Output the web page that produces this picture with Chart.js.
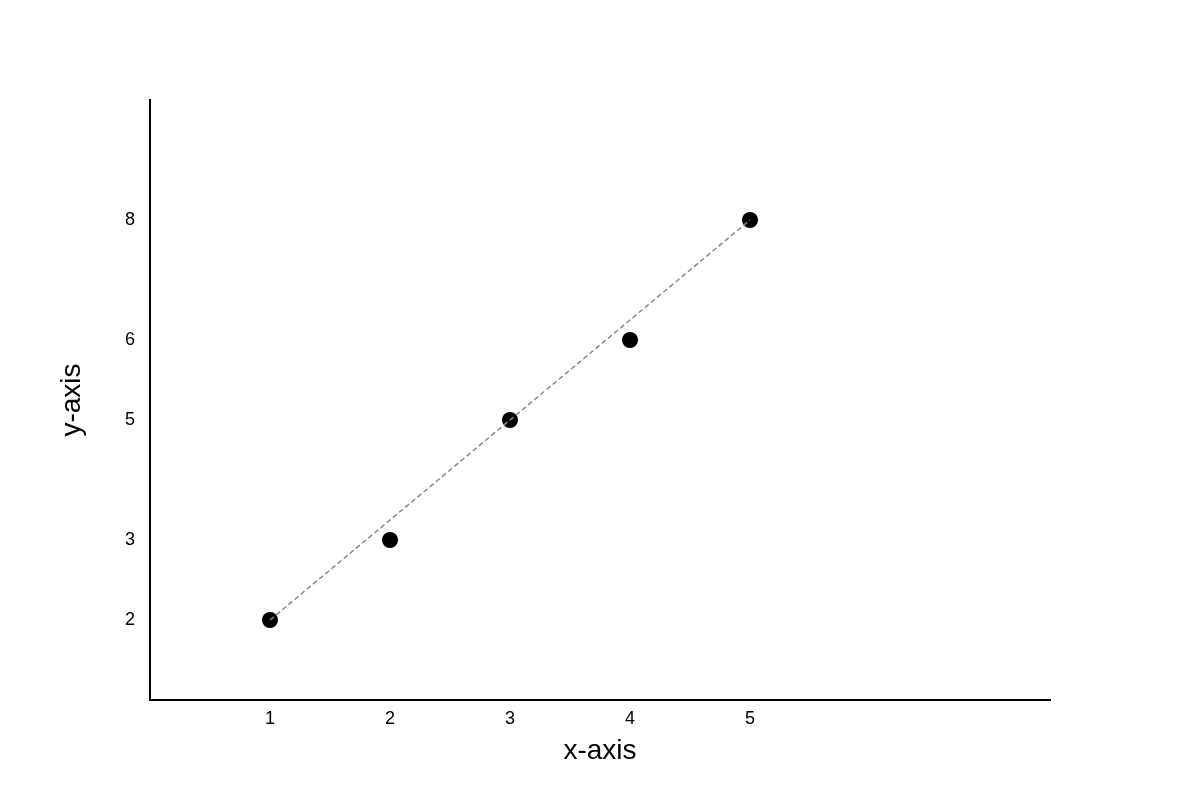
<!DOCTYPE html>
<html>
<head>
<meta charset="utf-8">
<script src="https://cdn.jsdelivr.net/npm/chart.js@4/dist/chart.umd.min.js"></script>
<style>
  html, body { margin: 0; padding: 0; background: #fff; }
  #mycanvas { display: block; }
</style>
</head>
<body>
<canvas id="mycanvas" width="1200" height="800"></canvas>
<script>
// data
var xValues = [1, 2, 3, 4, 5];
var yValues = [2, 3.2, 5, 6.2, 8];
var xTickLabels = ['1', '2', '3', '4', '5'];
var yTickLabels = ['2', '3', '5', '6', '8'];
var fitX = [1, 5];
var fitY = [2, 8];

var points = [];
for (var i in xValues) {
  points.push({ x: xValues[i], y: yValues[i] });
}
var fitLine = [];
for (var j in fitX) {
  fitLine.push({ x: fitX[j], y: fitY[j] });
}

var fontFamily = "'Liberation Sans', Arial, sans-serif";

var ctx = document.getElementById('mycanvas');

var scatter = new Chart(ctx, {
  type: 'scatter',
  data: {
    datasets: [
      {
        type: 'line',
        label: 'fit',
        data: fitLine,
        borderColor: '#888888',
        borderWidth: 1.5,
        borderDash: [5, 3],
        pointRadius: 0,
        fill: false,
        order: 0
      },
      {
        label: 'data',
        data: points,
        backgroundColor: '#000000',
        borderColor: '#000000',
        borderWidth: 0,
        pointRadius: 8,
        order: 1
      }
    ]
  },
  options: {
    responsive: false,
    animation: false,
    layout: {
      padding: { left: 0, right: 150, top: 100, bottom: 0 }
    },
    plugins: {
      legend: { display: false },
      tooltip: { enabled: false }
    },
    scales: {
      x: {
        type: 'linear',
        min: 0,
        max: 7.5,
        grid: { display: false, drawTicks: false },
        border: { display: true, color: '#000', width: 2 },
        afterBuildTicks: function(scale) {
          scale.ticks = xValues.map(function(v) { return { value: v }; });
        },
        afterFit: function(scale) { scale.height = 100; },
        ticks: {
          color: '#000',
          padding: 8,
          maxRotation: 0,
          font: { family: fontFamily, size: 18 },
          callback: function(val, idx) { return xTickLabels[idx]; }
        },
        title: {
          display: true,
          text: 'x-axis',
          color: '#000',
          font: { family: fontFamily, size: 28 },
          padding: { top: 0, bottom: 32 }
        }
      },
      y: {
        type: 'linear',
        min: 0.8,
        max: 9.8,
        grid: { display: false, drawTicks: false },
        border: { display: true, color: '#000', width: 2 },
        afterBuildTicks: function(scale) {
          scale.ticks = yValues.map(function(v) { return { value: v }; });
        },
        afterFit: function(scale) { scale.width = 150; },
        ticks: {
          color: '#000',
          padding: 15,
          font: { family: fontFamily, size: 18 },
          callback: function(val, idx) { return yTickLabels[idx]; }
        },
        title: {
          display: true,
          text: 'y-axis',
          color: '#000',
          font: { family: fontFamily, size: 28 },
          padding: { top: 55, bottom: 0 }
        }
      }
    }
  }
});
</script>
</body>
</html>
